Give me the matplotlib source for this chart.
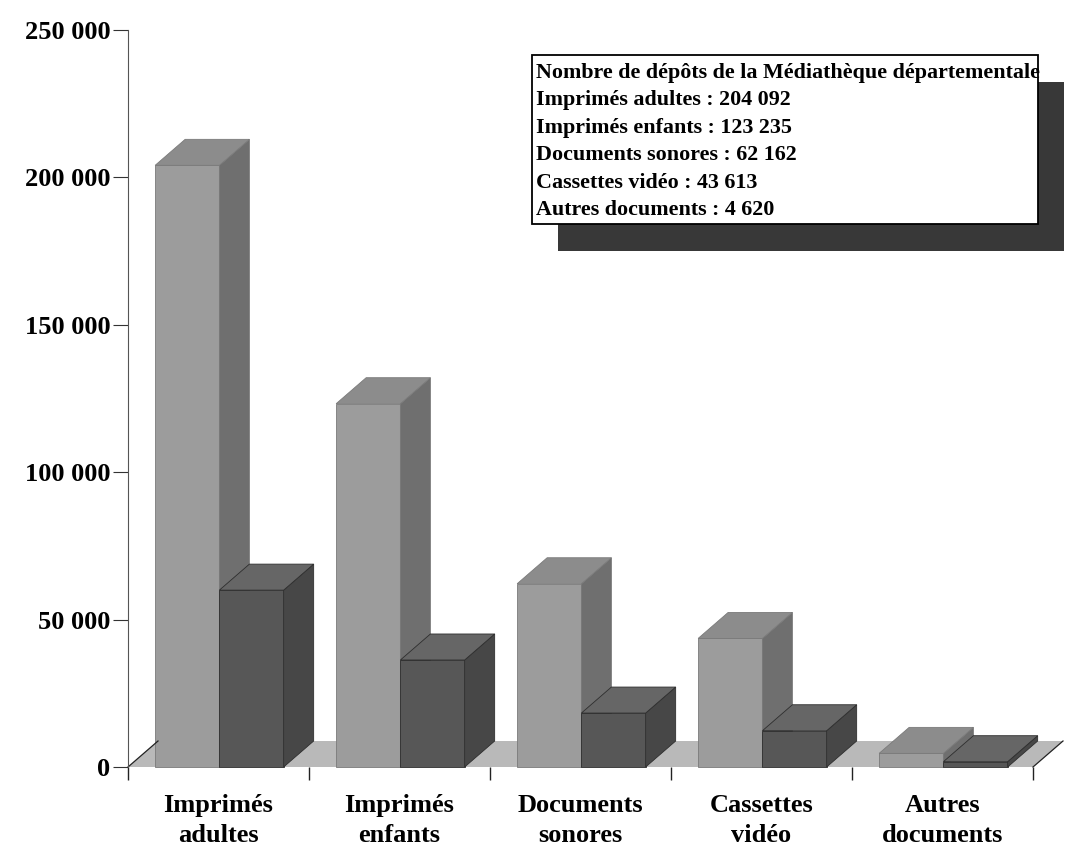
import matplotlib
matplotlib.use("Agg")
import matplotlib.pyplot as plt
from matplotlib.patches import Polygon, Rectangle
from matplotlib.ticker import FuncFormatter, FixedLocator
from matplotlib.lines import Line2D

# --- data -------------------------------------------------------------
categories = ["Imprimés\nadultes", "Imprimés\nenfants", "Documents\nsonores",
              "Cassettes\nvidéo", "Autres\ndocuments"]
legend_names = ["Imprimés adultes", "Imprimés enfants", "Documents sonores",
                "Cassettes vidéo", "Autres documents"]
depots = [204092, 123235, 62162, 43613, 4620]
serie_b = [60000, 36300, 18300, 12300, 1800]
yticks = [0, 50000, 100000, 150000, 200000, 250000]
legend_title = "Nombre de dépôts de la Médiathèque départementale"

# --- figure -----------------------------------------------------------
W, H = 1066, 859
SERIF = ["Liberation Serif", "DejaVu Serif"]
fig = plt.figure(figsize=(W / 100, H / 100), dpi=100)

cat_px = 181.0
ax = fig.add_axes([128 / W, (H - 767) / H, (W - 128) / W, (767 - 30) / H])
ax.set_xlim(0, (W - 128) / cat_px)
ax.set_ylim(0, 250000)

# oblique depth of the pseudo-3D blocks, in data units
DX = 30 / cat_px
DY = 26 * 250000 / 737


def fmt(v, _=None):
    return f"{int(round(v)):,}".replace(",", " ")


def block(x0, x1, v, front, side, top, edge):
    kw = dict(closed=True, lw=0.6, edgecolor=edge, joinstyle="miter",
              clip_on=False)
    ax.add_patch(Polygon([(x0, 0), (x1, 0), (x1, v), (x0, v)],
                         facecolor=front, **kw))
    ax.add_patch(Polygon([(x1, 0), (x1 + DX, DY), (x1 + DX, v + DY), (x1, v)],
                         facecolor=side, **kw))
    ax.add_patch(Polygon([(x0, v), (x1, v), (x1 + DX, v + DY), (x0 + DX, v + DY)],
                         facecolor=top, **kw))


n = len(categories)

# floor
ax.add_patch(Polygon([(0, 0), (n, 0), (n + DX, DY), (DX, DY)], closed=True,
                     facecolor="#b9b9b9", edgecolor="none", clip_on=False))
for xa in (0, n):
    ax.add_line(Line2D([xa, xa + DX], [0, DY], color="#222222", lw=0.9,
                       clip_on=False))

# bars
bw = 0.355
for i in range(n):
    xl = i + 0.15
    block(xl, xl + bw, depots[i], "#9c9c9c", "#6f6f6f", "#8c8c8c", "#7a7a7a")
    xd = xl + bw
    block(xd, xd + bw, serie_b[i], "#575757", "#474747", "#666666", "#2e2e2e")

# axes styling
for s in ("top", "right", "bottom"):
    ax.spines[s].set_visible(False)
ax.spines["left"].set_color("#555555")
ax.spines["left"].set_linewidth(0.8)
ax.set_facecolor("none")

ax.yaxis.set_major_locator(FixedLocator(yticks))
ax.yaxis.set_major_formatter(FuncFormatter(fmt))
ax.tick_params(axis="y", direction="out", length=10.8, width=0.8,
               color="#333333", pad=2)
for lab in ax.get_yticklabels():
    lab.set_fontfamily(SERIF)
    lab.set_fontweight("bold")
    lab.set_fontsize(19)

ax.xaxis.set_major_locator(FixedLocator(range(n + 1)))
ax.set_xticklabels([""] * (n + 1))
ax.tick_params(axis="x", direction="out", length=9, width=1.0, color="#222222")

xtr = ax.get_xaxis_transform()
for i, lab in enumerate(categories):
    ax.text(i + 0.5, -27 / 737, lab, transform=xtr, ha="center", va="top",
            fontsize=19, fontweight="bold", family=SERIF, linespacing=1.37)

# --- value box with drop shadow (pixel overlay) ------------------------
ov = fig.add_axes([0, 0, 1, 1], zorder=5)
ov.set_xlim(0, W)
ov.set_ylim(H, 0)
ov.axis("off")
ov.add_patch(Rectangle((558, 82), 506, 169, facecolor="#383838",
                       edgecolor="none"))
ov.add_patch(Rectangle((532, 55), 506, 169, facecolor="white",
                       edgecolor="black", lw=1.3))
lines = [legend_title] + [f"{nm} : {fmt(v)}" for nm, v in zip(legend_names, depots)]
for k, txt in enumerate(lines):
    ov.text(536, 73 + 27.4 * k, txt, ha="left", va="center", fontsize=15.8,
            fontweight="bold", family=SERIF)

fig.savefig("out.png", dpi=100, facecolor="white")
